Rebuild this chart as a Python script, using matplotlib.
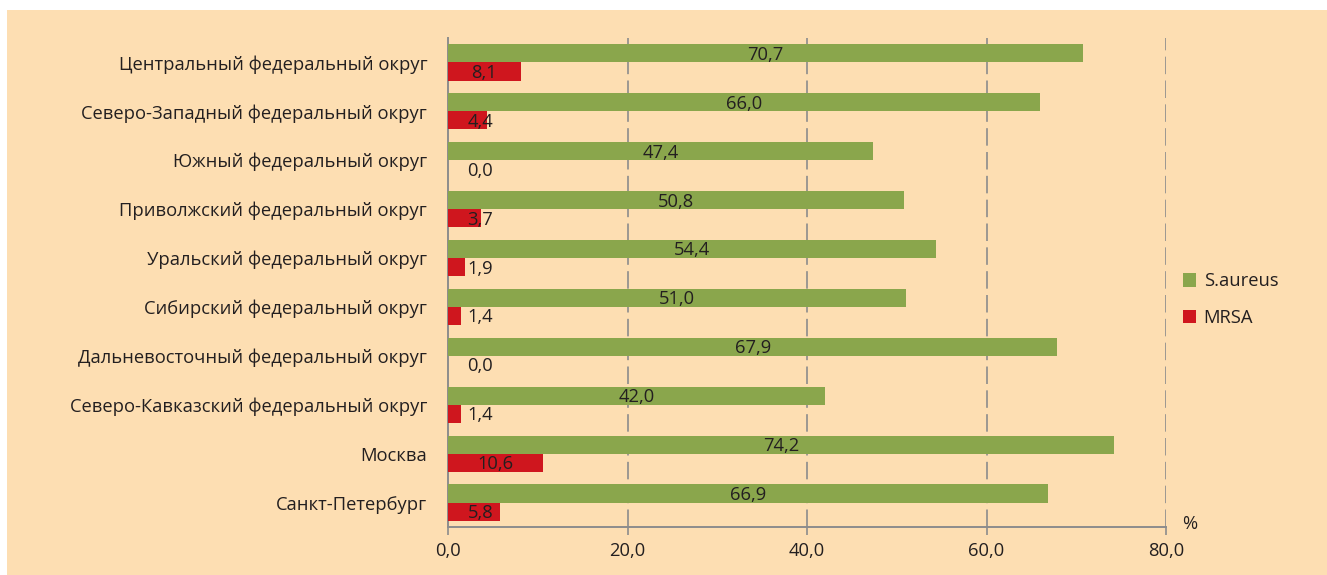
import matplotlib
matplotlib.use("Agg")
import matplotlib.pyplot as plt
from matplotlib.patches import Rectangle
import numpy as np

plt.rcParams['font.family'] = ['Open Sans', 'DejaVu Sans']

regions = [
    "Центральный федеральный округ",
    "Северо-Западный федеральный округ",
    "Южный федеральный округ",
    "Приволжский федеральный округ",
    "Уральский федеральный округ",
    "Сибирский федеральный округ",
    "Дальневосточный федеральный округ",
    "Северо-Кавказский федеральный округ",
    "Москва",
    "Санкт-Петербург",
]
s_aureus = [70.7, 66.0, 47.4, 50.8, 54.4, 51.0, 67.9, 42.0, 74.2, 66.9]
mrsa = [8.1, 4.4, 0.0, 3.7, 1.9, 1.4, 0.0, 1.4, 10.6, 5.8]
x_ticks = [0, 20, 40, 60, 80]
series_names = ["S.aureus", "MRSA"]

bg = "#FDDEB2"
green = "#8AA64C"
red = "#CF161E"
text_c = "#231F20"
axis_c = "#8C8C8C"

W, H = 1327, 575
fig = plt.figure(figsize=(W / 100, H / 100), dpi=100)
fig.patch.set_facecolor("white")
fig.patches.append(Rectangle((7 / W, 0), 1 - 7 / W, 1 - 10 / H,
                             transform=fig.transFigure, facecolor=bg,
                             edgecolor="none", zorder=-10))

ax = fig.add_axes([448 / W, 1 - 527 / H, (1166 - 448) / W, (527 - 38) / H])
ax.set_facecolor("none")
ax.set_zorder(5)

n = len(regions)
y = np.arange(n)
h = 0.37
ax.barh(y - h / 2, s_aureus, height=h, color=green, label=series_names[0], zorder=3)
ax.barh(y + h / 2, mrsa, height=h, color=red, label=series_names[1], zorder=3)

fs = 13.2
for yi, v in zip(y, s_aureus):
    ax.text(v / 2, yi - h / 2 + 0.03, f"{v:.1f}".replace(".", ","), ha="center",
            va="center", fontsize=fs, color=text_c, zorder=4)
for yi, v in zip(y, mrsa):
    ax.text(max(v / 2, 3.6), yi + h / 2 + 0.03, f"{v:.1f}".replace(".", ","),
            ha="center", va="center", fontsize=fs, color=text_c, zorder=4)

ax.set_ylim(n - 0.5, -0.5)
ax.set_xlim(0, 80)
ax.set_yticks(y)
ax.set_yticklabels(regions, fontsize=fs, color=text_c)
ax.tick_params(axis="y", length=0, pad=15)
ax.set_xticks(x_ticks)
ax.set_xticklabels([f"{t:.1f}".replace(".", ",") for t in x_ticks],
                   fontsize=fs, color=text_c)
ax.tick_params(axis="x", length=6, color=axis_c, width=1.2, pad=5)

for t in x_ticks[1:]:
    ax.axvline(t, color=axis_c, lw=1.2, ls=(0, (10.5, 3.8)), zorder=1)

for side in ["top", "right"]:
    ax.spines[side].set_visible(False)
for side in ["left", "bottom"]:
    ax.spines[side].set_color(axis_c)
    ax.spines[side].set_linewidth(1.4)

ax.text(1.033, -0.012, "%", transform=ax.transAxes, fontsize=fs, color=text_c,
        ha="center", va="bottom")

leg = fig.legend(loc="upper left", bbox_to_anchor=(1166 / W, 1 - 256 / H),
                 frameon=False, fontsize=fs, handlelength=0.75, handleheight=0.75,
                 handletextpad=0.4, labelspacing=1.0, labelcolor=text_c)

fig.savefig("out.png", dpi=100, facecolor=fig.get_facecolor())
